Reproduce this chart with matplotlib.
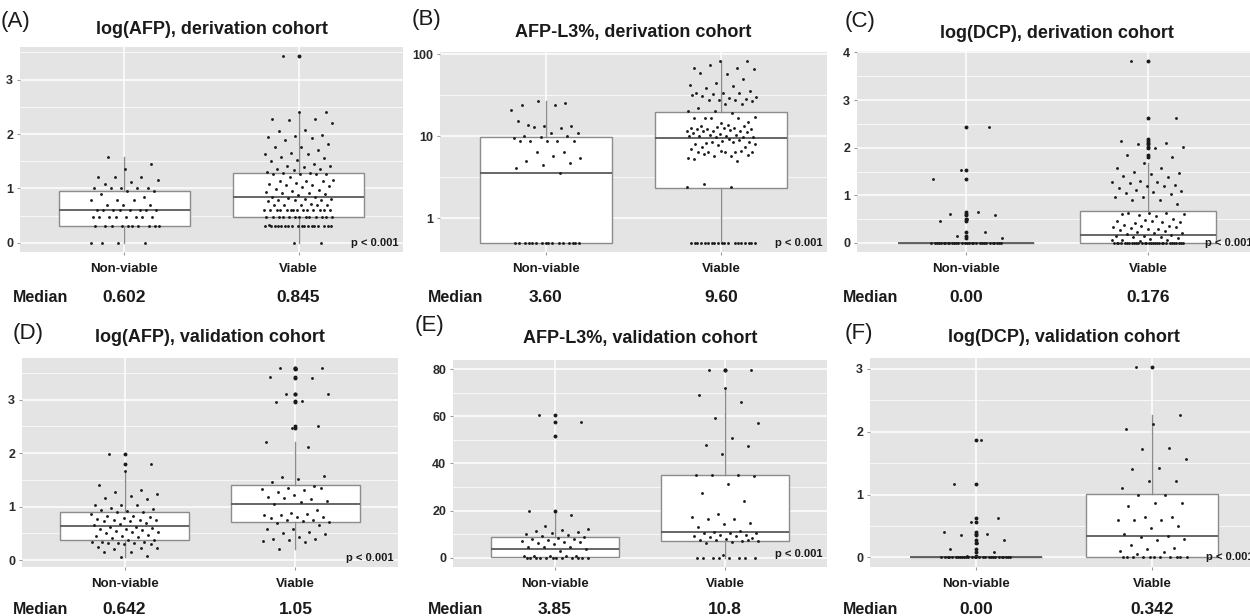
import numpy as np
import matplotlib
matplotlib.use("Agg")
import matplotlib.pyplot as plt
import matplotlib.transforms as mtransforms

plt.rcParams['font.family'] = ['Liberation Sans', 'DejaVu Sans']

W, H = 1250, 616

groups = ["Non-viable", "Viable"]

# ---- panel A: log(AFP), derivation
a_nv = [1.580, 1.447, 1.362, 1.204, 1.204, 1.204, 1.146, 1.114, 1.079, 1.0, 1.0, 1.0, 1.0, 1.0,
        0.954, 0.954, 0.903, 0.845, 0.778, 0.778, 0.778, 0.699, 0.699, 0.699,
        0.602, 0.602, 0.602, 0.602, 0.602, 0.602, 0.602, 0.602,
        0.477, 0.477, 0.477, 0.477, 0.477, 0.477, 0.477, 0.477,
        0.301, 0.301, 0.301, 0.301, 0.301, 0.301, 0.301, 0.301, 0.301, 0.301,
        0.0, 0.0, 0.0, 0.0]
a_v = [3.43, 2.41, 2.40, 2.28, 2.27, 2.26, 2.20, 2.07, 2.06, 1.99, 1.97, 1.94, 1.93, 1.89, 1.82,
       1.76, 1.76, 1.70, 1.65, 1.64, 1.63, 1.57, 1.55, 1.53, 1.51, 1.45, 1.42, 1.41, 1.40, 1.36,
       1.35, 1.34, 1.30, 1.28, 1.28, 1.27, 1.27, 1.27, 1.27, 1.21, 1.16, 1.14, 1.14, 1.13, 1.10,
       1.08, 1.07, 1.06, 1.05, 1.03, 0.99, 0.97, 0.95, 0.94, 0.92, 0.91, 0.90, 0.87, 0.85, 0.84,
       0.82, 0.81, 0.80, 0.78, 0.78, 0.78, 0.76, 0.71, 0.70, 0.70, 0.70, 0.70, 0.70,
       0.602, 0.602, 0.602, 0.602, 0.602, 0.602, 0.602, 0.602, 0.602, 0.602, 0.602, 0.602, 0.602, 0.602,
       0.477, 0.477, 0.477, 0.477, 0.477, 0.477, 0.477, 0.477, 0.477, 0.477, 0.477, 0.477, 0.477,
       0.33, 0.301, 0.301, 0.301, 0.301, 0.301, 0.301, 0.301, 0.301, 0.301, 0.301, 0.301, 0.301,
       0.301, 0.301, 0.301, 0.301, 0.301, 0.301, 0.0, 0.0]
a_box = [[0.0, 0.30, 0.602, 0.95, 1.58], [0.0, 0.48, 0.845, 1.28, 2.41]]
a_median = ["0.602", "0.845"]

# ---- panel B: AFP-L3%, derivation (log axis)
b_nv = [0.5, 0.5, 0.5, 0.5, 0.5, 0.5, 0.5, 0.5, 0.5, 0.5, 0.5, 0.5, 0.5, 0.5, 0.5, 0.5,
        24.2, 25.3, 26.6, 21.0, 24.2, 13.5, 13.4, 13.2, 15.1, 12.5, 12.9, 11.0, 11.0, 10.0,
        9.9, 9.7, 9.4, 8.7, 8.7, 8.7, 8.7, 8.7, 6.4, 6.4, 5.4, 5.8, 5.0, 4.7, 4.5, 4.06, 3.56]
b_v = [0.5, 0.5, 0.5, 0.5, 0.5, 0.5, 0.5, 0.5, 0.5, 0.5, 0.5, 0.5, 0.5, 0.5, 0.5, 0.5, 0.5, 0.5, 0.5,
       2.37, 2.37, 2.6, 82, 82, 68, 68, 73, 65, 57, 59, 49, 45, 42, 40.6, 39, 35.5, 33.7, 33.7,
       33.7, 33, 30, 29.2, 30.6, 28.6, 27.8, 31.5, 27.8, 27.8, 26.8, 24.9, 22.3, 24.9, 20, 20.3,
       19.1, 16.7, 14.9, 14.4, 16.7, 16.4, 16.4, 17.1, 13.8, 13.2, 13.2, 12.9, 12.4, 12.5, 12.1,
       12.2, 12.5, 12.1, 11.4, 11.5, 11.7, 12.0, 11.4, 11.2, 10.7, 10.9, 10.4, 10.2, 9.7, 10.0,
       10.0, 9.7, 9.7, 10.0, 8.4, 8.2, 8.4, 8.8, 8.1, 9.0, 8.4, 8.1, 9.3, 7.3, 7.3, 7.8, 7.0,
       6.4, 6.4, 6.4, 6.4, 6.4, 6.6, 5.8, 5.4, 5.7, 6.0, 5.9, 6.6, 5.2, 5.0]
b_box = [[0.5, 0.5, 3.6, 9.7, 26.6], [0.5, 2.35, 9.6, 19.6, 82]]
b_median = ["3.60", "9.60"]

# ---- panel C: log(DCP), derivation
c_nv = [0.0] * 30 + [2.44, 1.53, 1.35, 0.66, 0.61, 0.59, 0.51, 0.47, 0.22, 0.14, 0.11]
c_v = [3.83, 2.63, 2.19, 2.15, 2.09, 2.07, 2.01, 2.0, 1.84, 1.80,
       1.67, 1.58, 1.57, 1.49, 1.47, 1.44, 1.41, 1.39, 1.31, 1.29, 1.27, 1.25, 1.22, 1.19, 1.15,
       1.20, 1.12, 1.09, 1.06, 1.04, 1.03, 0.96, 0.97, 0.90, 0.90, 0.81,
       0.62, 0.60, 0.62, 0.58, 0.60, 0.56, 0.62, 0.50, 0.48, 0.46, 0.45, 0.42, 0.43, 0.47, 0.38,
       0.35, 0.36, 0.34, 0.30, 0.31, 0.33, 0.30, 0.27, 0.25, 0.24, 0.20, 0.21, 0.18, 0.17, 0.15,
       0.14, 0.13, 0.12, 0.10, 0.08, 0.07, 0.06, 0.05, 0.06] + [0.0] * 30
c_box = [[0.0, 0.0, 0.0, 0.0, 0.0], [0.0, 0.0, 0.176, 0.68, 1.67]]
c_median = ["0.00", "0.176"]

# ---- panel D: log(AFP), validation
d_nv = [1.98, 1.79, 1.66, 1.40, 1.31, 1.28, 1.23, 1.19, 1.16, 1.14, 1.03, 1.03, 1.03, 0.98, 0.95,
        0.91, 0.93, 0.89, 0.90, 0.87, 0.83, 0.82, 0.80, 0.79, 0.76, 0.74, 0.75, 0.75, 0.73, 0.73,
        0.70, 0.68, 0.66, 0.62, 0.61, 0.60, 0.58, 0.58, 0.57, 0.55, 0.53, 0.52, 0.51, 0.47, 0.45,
        0.45, 0.43, 0.42, 0.37, 0.37, 0.33, 0.33, 0.31, 0.33, 0.31, 0.32, 0.30, 0.30, 0.25, 0.23,
        0.20, 0.22, 0.15, 0.15, 0.08, 0.05]
d_v = [3.60, 3.59, 3.58, 3.42, 3.41, 3.11, 3.10, 2.97, 2.95, 2.50, 2.47,
       2.20, 2.12, 1.56, 1.57, 1.51, 1.46, 1.39, 1.35, 1.32, 1.31, 1.28, 1.34, 1.22, 1.18, 1.15,
       1.16, 1.11, 1.08, 1.04, 0.94, 0.88, 0.85, 0.87, 0.84, 0.80, 0.80, 0.78, 0.75, 0.74, 0.72,
       0.73, 0.70, 0.65, 0.59, 0.58, 0.52, 0.50, 0.48, 0.43, 0.40, 0.40, 0.37, 0.35, 0.33, 0.20]
d_box = [[0.05, 0.37, 0.642, 0.89, 1.66], [0.20, 0.72, 1.05, 1.41, 2.20]]
d_median = ["0.642", "1.05"]

# ---- panel E: AFP-L3%, validation
e_nv = [60.5, 57.8, 51.8, 19.8, 17.9, 13.4, 12.1, 11.6, 11.3, 10.8, 10.4, 10.0, 9.6, 9.0, 8.7,
        8.4, 8.0, 7.7, 7.4, 6.9, 6.8, 6.3, 6.5, 5.6, 4.3, 4.3, 4.3, 3.6, 3.0,
        0.5, 0.5, 0.5, 0.5, 0.5] + [0.0] * 12
e_v = [79.6, 79.6, 72.0, 69.0, 66.1, 59.2, 57.4, 51.0, 48.0, 47.5, 43.9, 34.9, 34.9, 35.0, 34.5,
       31.2, 27.5, 24.2, 18.5, 17.4, 16.6, 16.3, 14.5, 14.4, 13.1, 11.3, 10.9, 10.6, 10.5, 10.3,
       9.8, 9.5, 9.2, 9.0, 8.6, 8.3, 8.0, 7.5, 7.1, 7.3, 6.9, 6.6, 6.2, 7.6, 1.3] + [0.0] * 8
e_box = [[0.0, 0.3, 3.85, 8.6, 19.7], [0.0, 7.2, 10.8, 34.9, 72.0]]
e_median = ["3.85", "10.8"]

# ---- panel F: log(DCP), validation
f_nv = [0.0] * 28 + [1.87, 1.17, 0.63, 0.57, 0.40, 0.37, 0.36, 0.28, 0.23, 0.14, 0.08, 0.03]
f_v = [3.02, 2.26, 2.12, 2.04, 1.74, 1.72, 1.57, 1.42, 1.40, 1.21, 1.21, 1.10, 1.00, 1.00, 0.87,
       0.86, 0.82, 0.65, 0.64, 0.59, 0.59, 0.59, 0.50, 0.47, 0.37, 0.34, 0.33, 0.30, 0.28, 0.20,
       0.15, 0.14, 0.10, 0.08, 0.05] + [0.0] * 11
f_box = [[0.0, 0.0, 0.0, 0.0, 0.0], [0.0, 0.0, 0.342, 1.01, 2.26]]
f_median = ["0.00", "0.342"]

titles = ["log(AFP), derivation cohort", "AFP-L3%, derivation cohort", "log(DCP), derivation cohort",
          "log(AFP), validation cohort", "AFP-L3%, validation cohort", "log(DCP), validation cohort"]
letters = ["(A)", "(B)", "(C)", "(D)", "(E)", "(F)"]

fig = plt.figure(figsize=(W / 100, H / 100), dpi=100)

BG = "#e4e4e4"
EDGE = "#8c8c8c"
INK = "#1a1a1a"


def px_axes(left, top, right, bottom):
    return fig.add_axes([left / W, 1 - bottom / H, (right - left) / W, (bottom - top) / H])


def panel(ax, nv, v, box, ylim, yticks, ytlabels, yminor, p_y, logy=False):
    ax.set_facecolor(BG)
    for s in ax.spines.values():
        s.set_visible(False)
    if logy:
        ax.set_yscale("log")
    # ggplot-like grid, drawn by hand
    for y in yminor:
        ax.axhline(y, color="white", linewidth=0.6, alpha=0.85, zorder=0.5)
    for y in yticks:
        ax.axhline(y, color="white", linewidth=1.1, zorder=0.6)
    for x in [1, 2]:
        ax.axvline(x, color="white", linewidth=1.1, zorder=0.6)
    stats = []
    for vals, b in zip([nv, v], box):
        fl = [x for x in vals if x < b[0] or x > b[4]]
        stats.append(dict(whislo=b[0], q1=b[1], med=b[2], q3=b[3], whishi=b[4], fliers=fl))
    ax.bxp(stats, positions=[1, 2], widths=0.75, patch_artist=True, showcaps=False,
           boxprops=dict(facecolor="white", edgecolor=EDGE, linewidth=1.0),
           whiskerprops=dict(color=EDGE, linewidth=1.0),
           medianprops=dict(color="#5a5a5a", linewidth=1.3),
           flierprops=dict(marker="o", markersize=2.8, markerfacecolor=INK,
                           markeredgecolor="none"),
           zorder=2)
    # jittered points
    for k, vals in enumerate([nv, v]):
        n = len(vals)
        off = (((np.arange(n) * 0.618034 + 0.27) % 1.0) - 0.5) * 0.4
        ax.scatter(k + 1 + off, vals, s=4.2, color=INK, linewidths=0, zorder=3)
    ax.set_xlim(0.4, 2.6)
    ax.set_ylim(*ylim)
    ax.set_xticks([1, 2])
    ax.set_xticklabels(groups, fontsize=9.5, fontweight="bold", color=INK)
    ax.set_yticks(yticks)
    ax.set_yticklabels(ytlabels, fontsize=9, fontweight="bold", color="#2a2a2a")
    ax.minorticks_off()
    ax.tick_params(axis="both", which="major", length=2, color="#9a9a9a", pad=3)
    ax.tick_params(axis="x", pad=6)
    ax.text(0.988, p_y, "p < 0.001",
            transform=mtransforms.blended_transform_factory(ax.transAxes, ax.transData),
            ha="right", va="center", fontsize=8, fontweight="bold", color=INK, zorder=4)


axA = px_axes(20, 47, 403, 252)
axB = px_axes(440, 52, 827, 252)
axC = px_axes(857, 51, 1257, 252)
axD = px_axes(22, 358, 398, 567)
axE = px_axes(453, 360, 827, 567)
axF = px_axes(870, 358, 1258, 567)

panel(axA, a_nv, a_v, a_box, (-0.17, 3.6), [0, 1, 2, 3], ["0", "1", "2", "3"],
      [0.5, 1.5, 2.5, 3.5], 0.0)
panel(axB, b_nv, b_v, b_box, (10 ** -0.412, 10 ** 2.025), [1, 10, 100], ["1", "10", "100"],
      [10 ** 0.5, 10 ** 1.5], 0.5, logy=True)
panel(axC, c_nv, c_v, c_box, (-0.19, 4.03), [0, 1, 2, 3, 4], ["0", "1", "2", "3", "4"],
      [0.5, 1.5, 2.5, 3.5], 0.0)
panel(axD, d_nv, d_v, d_box, (-0.13, 3.78), [0, 1, 2, 3], ["0", "1", "2", "3"],
      [0.5, 1.5, 2.5, 3.5], 0.04)
panel(axE, e_nv, e_v, e_box, (-4, 84), [0, 20, 40, 60, 80], ["0", "20", "40", "60", "80"],
      [10, 30, 50, 70], 1.5)
panel(axF, f_nv, f_v, f_box, (-0.151, 3.17), [0, 1, 2, 3], ["0", "1", "2", "3"],
      [0.5, 1.5, 2.5], 0.0)

axes = [axA, axB, axC, axD, axE, axF]
medians = [a_median, b_median, c_median, d_median, e_median, f_median]
title_y = [30, 32, 33, 338, 338, 338]
letter_pos = [(1, 22), (412, 20), (845, 22), (13, 334), (415, 325), (845, 334)]
median_y = [297, 297, 297, 609, 609, 609]
panel_x0 = [0, 415, 830, 0, 415, 830]

for i, ax in enumerate(axes):
    pos = ax.get_position()
    cx = (pos.x0 + pos.x1) / 2
    fig.text(cx, 1 - title_y[i] / H, titles[i], ha="center", va="center", fontsize=13,
             fontweight="bold", color=INK)
    lx, ly = letter_pos[i]
    fig.text(lx / W, 1 - ly / H, letters[i], ha="left", va="center", fontsize=16, color=INK)
    fig.text((panel_x0[i] + 13) / W, 1 - median_y[i] / H, "Median", ha="left", va="center",
             fontsize=11.5, fontweight="bold", color=INK)
    tr = mtransforms.blended_transform_factory(ax.transData, fig.transFigure)
    for k, m in enumerate(medians[i]):
        ax.text(k + 1, 1 - median_y[i] / H, m, transform=tr, ha="center", va="center",
                fontsize=12.5, fontweight="bold", color=INK, clip_on=False)

fig.savefig("out.png", dpi=100)
